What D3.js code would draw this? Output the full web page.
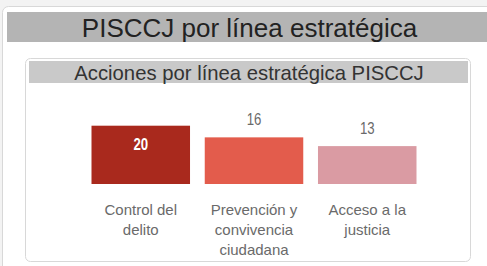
<!DOCTYPE html>
<html>
<head>
<meta charset="utf-8">
<script src="https://cdn.jsdelivr.net/npm/d3@7"></script>
<style>
  html, body { margin: 0; padding: 0; background: #f3f3f3; }
  svg { display: block; }
  text { font-family: "Liberation Sans", Arial, sans-serif; }
</style>
</head>
<body>
<svg id="chart" width="487" height="266"></svg>
<script>
// datos del grafico
var categorias = ['Control del delito', 'Prevención y convivencia ciudadana', 'Acceso a la justicia'];
var lineasEtiqueta = [['Control del', 'delito'], ['Prevención y', 'convivencia', 'ciudadana'], ['Acceso a la', 'justicia']];
var acciones = [20, 16, 13];
var colores = ['#a9291d', '#e35c4c', '#da9ba3'];
var tituloPagina = 'PISCCJ por línea estratégica';
var tituloGrafico = 'Acciones por línea estratégica PISCCJ';

var svg = d3.select('#chart');

// panel exterior
svg.append('rect')
    .attr('x', 2.5).attr('y', 6.5)
    .attr('width', 620).attr('height', 400)
    .attr('rx', 6)
    .style('fill', '#fff')
    .style('stroke', '#d8d8d8');

svg.append('rect')
    .attr('x', 7).attr('y', 12)
    .attr('width', 490).attr('height', 30)
    .style('fill', '#b4b4b4');

svg.append('text')
    .attr('x', 249.5).attr('y', 37)
    .attr('text-anchor', 'middle')
    .style('font-size', '26px')
    .style('fill', '#222')
    .text(tituloPagina);

// panel interior
svg.append('rect')
    .attr('x', 25.5).attr('y', 58.5)
    .attr('width', 445).attr('height', 203)
    .attr('rx', 5)
    .style('fill', '#fff')
    .style('stroke', '#d8d8d8');

svg.append('rect')
    .attr('x', 29).attr('y', 61)
    .attr('width', 439).attr('height', 22)
    .style('fill', '#c9c9c9');

svg.append('text')
    .attr('x', 249).attr('y', 80)
    .attr('text-anchor', 'middle')
    .style('font-size', '20.3px')
    .style('fill', '#333')
    .text(tituloGrafico);

// escalas
var x = d3.scaleBand()
    .domain(categorias)
    .range([91.5, 416.5])
    .paddingInner(0.13)
    .paddingOuter(0);

var y = d3.scaleLinear()
    .domain([0, 20])
    .range([184, 125.7]);

var datos = categorias.map(function(c, i) {
    return { cat: c, val: acciones[i], color: colores[i], lineas: lineasEtiqueta[i], idx: i };
});

var g = svg.append('g');

g.selectAll('rect.barra')
    .data(datos)
    .enter().append('rect')
    .attr('class', 'barra')
    .attr('x', function(d) { return x(d.cat); })
    .attr('y', function(d) { return y(d.val); })
    .attr('width', x.bandwidth())
    .attr('height', function(d) { return y(0) - y(d.val); })
    .style('fill', function(d) { return d.color; });

// etiquetas de valor (letra estrecha: se comprime en horizontal)
g.selectAll('text.valor')
    .data(datos)
    .enter().append('text')
    .attr('class', 'valor')
    .attr('transform', function(d) {
        var cx = x(d.cat) + x.bandwidth() / 2;
        var cy = d.idx === 0 ? y(d.val) + 24.5 : y(d.val) - 12;
        return 'translate(' + cx + ',' + cy + ') scale(0.8,1)';
    })
    .attr('text-anchor', 'middle')
    .style('font-size', '16.5px')
    .style('font-weight', function(d) { return d.idx === 0 ? 'bold' : 'normal'; })
    .style('fill', function(d) { return d.idx === 0 ? '#fff' : '#6a6a6a'; })
    .text(function(d) { return d.val; });

// etiquetas de categoria
var cat = g.selectAll('text.cat')
    .data(datos)
    .enter().append('text')
    .attr('class', 'cat')
    .attr('x', function(d) { return x(d.cat) + x.bandwidth() / 2; })
    .attr('y', 215)
    .attr('text-anchor', 'middle')
    .style('font-size', '15px')
    .style('fill', '#6a6a6a');

cat.selectAll('tspan')
    .data(function(d) { return d.lineas; })
    .enter().append('tspan')
    .attr('x', function() { var p = d3.select(this.parentNode).datum(); return x(p.cat) + x.bandwidth() / 2; })
    .attr('dy', function(d, i) { return i === 0 ? 0 : 20; })
    .text(function(d) { return d; });
</script>
</body>
</html>
